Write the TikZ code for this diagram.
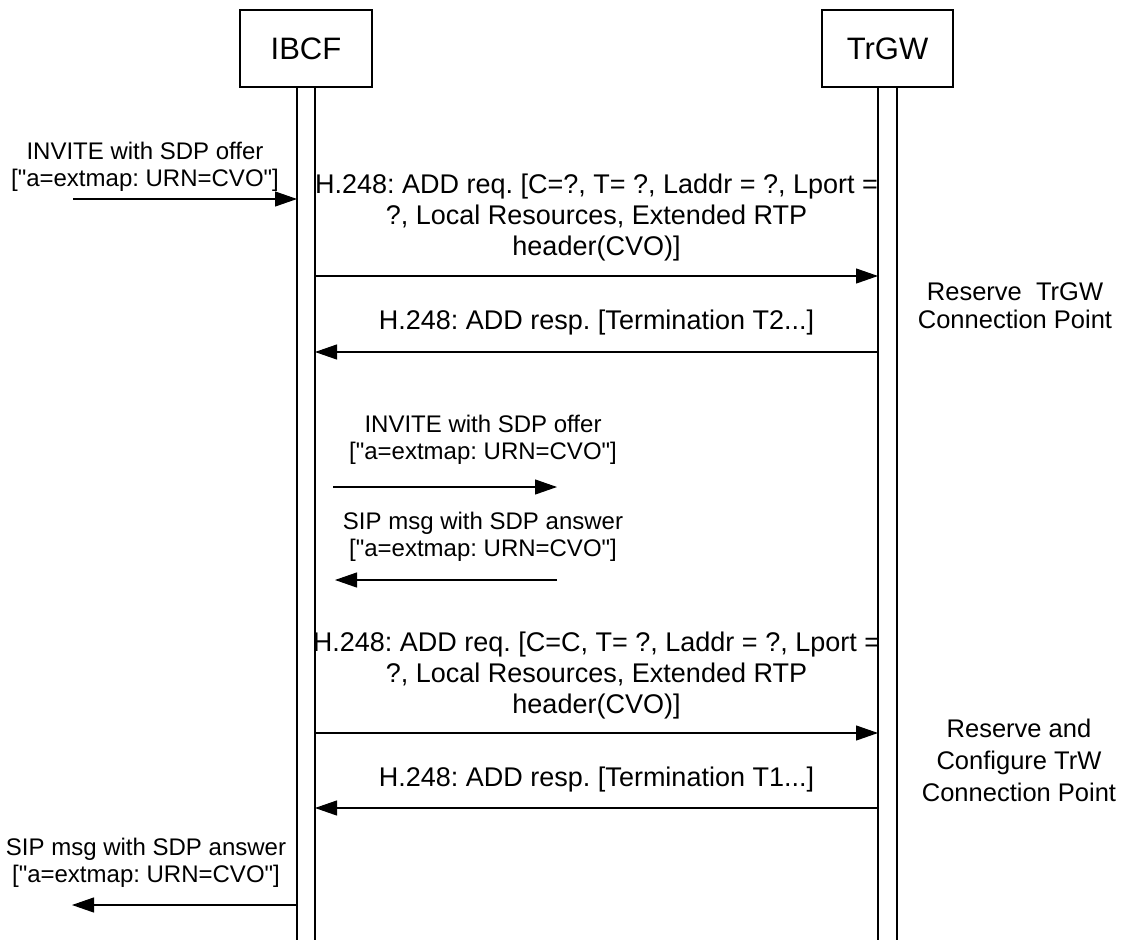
\documentclass[tikz,border=0pt]{standalone}
\usepackage{fontspec}
\setmainfont{Liberation Sans}[Ligatures=TeXOff]
\usetikzlibrary{arrows.meta}
\begin{document}
\frenchspacing
\begin{tikzpicture}[x=1pt,y=-1pt,
  entity/.style={draw,line width=1.3pt,minimum width=132pt,minimum height=77pt,inner sep=0pt,font=\fontsize{31}{36}\selectfont},
  life/.style={line width=1.3pt},
  msg/.style={line width=1.1pt,-{Triangle[length=22pt,width=15pt]}},
  siplab/.style={align=center,inner sep=0pt,anchor=south,font=\fontsize{24}{27}\selectfont},
  hlab/.style={align=center,inner sep=0pt,anchor=south,font=\fontsize{27}{31}\selectfont},
  notelab/.style={align=center,inner sep=0pt,font=\fontsize{25.5}{28}\selectfont}]
\useasboundingbox (0,0) rectangle (1128,940);
% entities
\node[entity] (ibcf) at (306,48.5) {IBCF};
\node[entity,minimum width=131pt] (trgw) at (887.5,48.5) {TrGW};
% lifelines
\coordinate (iL1) at (297,87); \coordinate (iL2) at (297,940);
\coordinate (iR1) at (315,87); \coordinate (iR2) at (315,940);
\coordinate (tL1) at (878,87); \coordinate (tL2) at (878,940);
\coordinate (tR1) at (897,87); \coordinate (tR2) at (897,940);
\draw[life] (iL1) -- (iL2);
\draw[life] (iR1) -- (iR2);
\draw[life] (tL1) -- (tL2);
\draw[life] (tR1) -- (tR2);
% message endpoints
\coordinate (a1) at (73,199);  \coordinate (b1) at (297,199);
\coordinate (a2) at (315,276); \coordinate (b2) at (878,276);
\coordinate (a3) at (878,352); \coordinate (b3) at (315,352);
\coordinate (a4) at (333,487); \coordinate (b4) at (557,487);
\coordinate (a5) at (557,580); \coordinate (b5) at (335,580);
\coordinate (a6) at (315,733); \coordinate (b6) at (878,733);
\coordinate (a7) at (878,808); \coordinate (b7) at (315,808);
\coordinate (a8) at (297,905); \coordinate (b8) at (72,905);
\draw[msg] (a1) -- (b1);
\draw[msg] (a2) -- (b2);
\draw[msg] (a3) -- (b3);
\draw[msg] (a4) -- (b4);
\draw[msg] (a5) -- (b5);
\draw[msg] (a6) -- (b6);
\draw[msg] (a7) -- (b7);
\draw[msg] (a8) -- (b8);
% labels
\node[siplab] (t1) at (145,192) {INVITE with SDP offer\\{[}"a=extmap: URN=CVO"]};
\node[hlab] (t2) at (596.5,261.5) {H.248: ADD req. [C=?, T= ?, Laddr = ?, Lport =\\?, Local Resources, Extended RTP\\header(CVO)]};
\node[hlab] (t3) at (596.5,335.5) {H.248: ADD resp. [Termination T2...]};
\node[notelab] (n1) at (1015,306) {Reserve~~TrGW\\Connection Point};
\node[siplab] (t4) at (483,465) {INVITE with SDP offer\\{[}"a=extmap: URN=CVO"]};
\node[siplab] (t5) at (483,562) {SIP msg with SDP answer\\{[}"a=extmap: URN=CVO"]};
\node[hlab] (t6) at (596.5,719.5) {H.248: ADD req. [C=C, T= ?, Laddr = ?, Lport =\\?, Local Resources, Extended RTP\\header(CVO)]};
\node[hlab] (t7) at (596.5,792.5) {H.248: ADD resp. [Termination T1...]};
\node[notelab,font=\fontsize{25.5}{32}\selectfont] (n2) at (1019,760) {Reserve and\\Configure TrW\\Connection Point};
\node[siplab] (t8) at (146,888) {SIP msg with SDP answer\\{[}"a=extmap: URN=CVO"]};
\end{tikzpicture}
\end{document}
